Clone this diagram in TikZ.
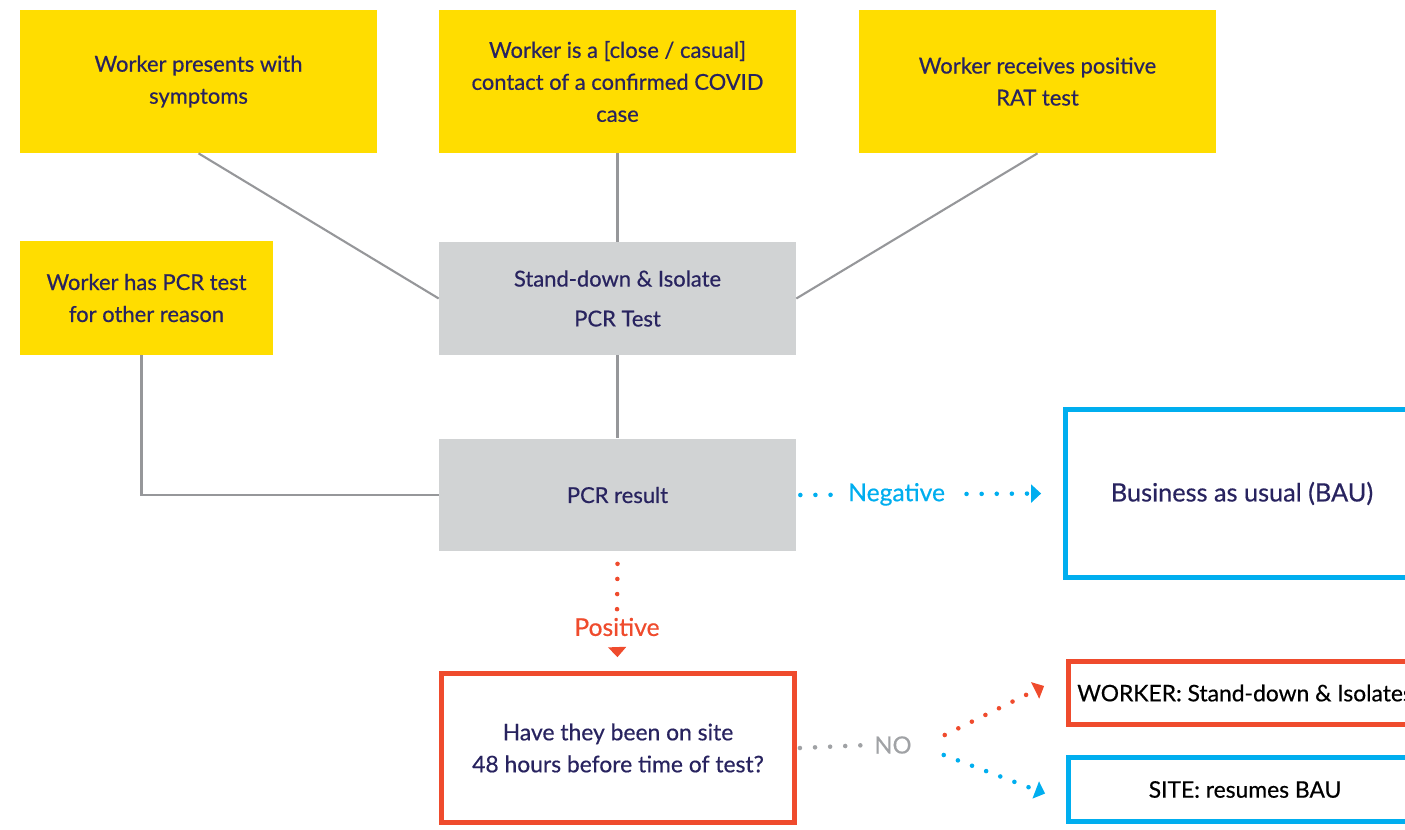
\documentclass[tikz,border=0pt]{standalone}
\usepackage{fontspec}
\setmainfont{Lato}[FakeBold=0.5]
\usetikzlibrary{arrows.meta,calc,positioning}
\definecolor{covidyellow}{RGB}{255,221,0}
\definecolor{covidgrey}{RGB}{209,211,212}
\definecolor{covidline}{RGB}{150,151,154}
\definecolor{covidnavy}{RGB}{40,35,95}
\definecolor{covidred}{RGB}{239,75,45}
\definecolor{covidblue}{RGB}{0,174,239}
\definecolor{covidno}{RGB}{160,162,165}

\begin{document}
\begin{tikzpicture}[x=0.02cm,y=-0.02cm,
    trigger/.style={fill=covidyellow,text=covidnavy,align=center,inner sep=0pt,
      minimum width=7.14cm,minimum height=2.86cm,
      font=\fontsize{12.5}{18.2}\selectfont},
    stage/.style={trigger,fill=covidgrey,minimum height=2.26cm},
    outcome/.style={draw=#1,line width=2.8pt,align=center,inner sep=0pt,
      minimum width=7.06cm,font=\fontsize{13}{18.2}\selectfont},
    link/.style={draw=covidline,line width=1.2pt},
    dots/.style={draw=#1,line width=2.6pt,line cap=round,
      dash pattern=on 0pt off 8.6pt},
    tip/.style={-{Triangle[length=0.2cm,width=0.37cm,line width=0pt]}},
    flag/.style={text=#1,font=\fontsize{14}{16}\selectfont}]
  \useasboundingbox (0,0) rectangle (1405,830);
  \clip (0,0) rectangle (1405,830);
  \node[trigger] (symptoms) at (198.5,81.5)
    {Worker presents with\\symptoms};
  \node[trigger] (contact) at (617.5,81.5)
    {Worker is a [close / casual]\\contact of a confirmed COVID\\case};
  \node[trigger] (rat) at (1037.5,81.5)
    {Worker receives positive\\RAT test};
  \node[trigger,minimum width=5.06cm,minimum height=2.28cm] (other) at (146.5,298)
    {Worker has PCR test\\for other reason};
  \node[stage] (isolate) at (617.5,298.5)
    {Stand-down \& Isolate\\[4.5pt]PCR Test};
  \node[stage] (result) at (617.5,495) {PCR result};
  \node[outcome=covidblue,minimum height=3.36cm,text=covidnavy,
    font=\fontsize{14.4}{18}\selectfont] (bau) at (1242,493.5)
    {Business as usual (BAU)};
  \node[outcome=covidred,minimum height=2.98cm,text=covidnavy] (question) at (618,748)
    {Have they been on site\\48 hours before time of test?};
  \node[outcome=covidred,minimum height=1.26cm,text=black] (worker) at (1245,693)
    {WORKER: Stand-down \& Isolates};
  \node[outcome=covidblue,minimum height=1.28cm,text=black] (site) at (1245,789.5)
    {SITE: resumes BAU};

  \draw[link] (symptoms.south) -- (isolate.west);
  \draw[link] (contact) -- (isolate);
  \draw[link] (rat.south) -- (isolate.east);
  \draw[link] (isolate) -- (result);
  \draw[link] ($(other.south)+(-5,0)$) |- (result.west);

  \draw[dots=covidblue,tip] ($(result.east)+(4,0)$) --
    node[pos=.4,fill=white,inner xsep=7pt,flag=covidblue] (negative) {Negative}
    ($(bau.west)+(-22,0)$);

  \node[flag=covidred] (positive) at (617,627) {Positive};
  \draw[dots=covidred] ($(result.south)+(0,12)$) -- (positive.north);
  \draw[covidred,dash pattern=on 0pt off 50pt,tip,shorten >=0.28cm]
    (positive.south) -- (question.north);

  \node[flag=covidno,font=\fontsize{13.5}{16}\selectfont] (no) at (893,745) {NO};
  \draw[dots=covidno] ($(question.east)+(3,0)$) -- (no.west);
  \draw[dots=covidred,tip] ($(no.east)+(27,-10)$) -- ($(worker.west)+(-22,-7)$);
  \draw[dots=covidblue,tip] ($(no.east)+(26,10)$) -- ($(site.west)+(-21,4)$);
\end{tikzpicture}
\end{document}
